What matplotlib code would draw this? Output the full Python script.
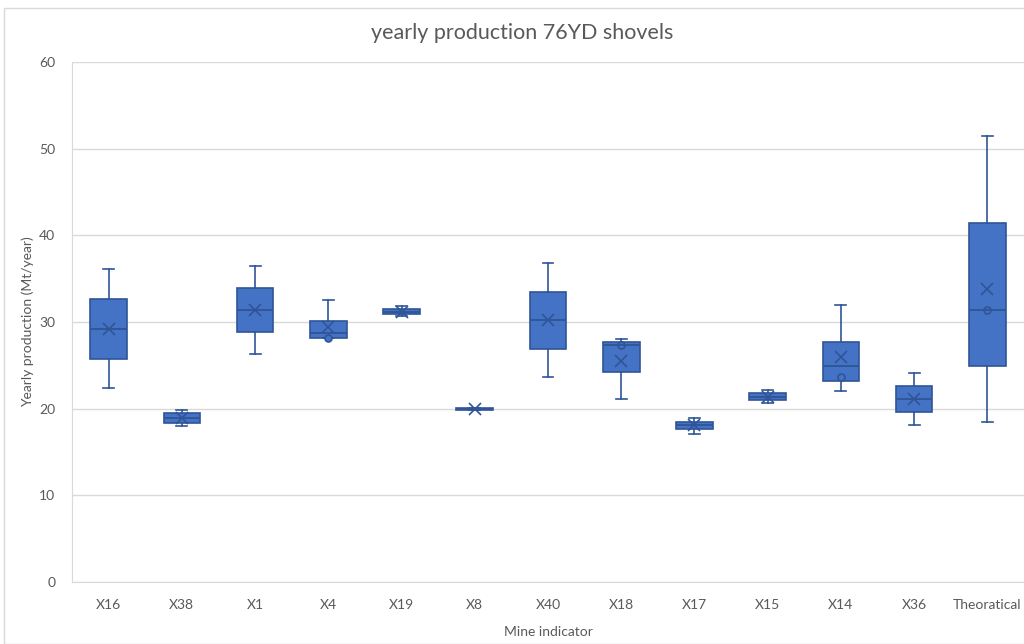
import matplotlib
matplotlib.use("Agg")
import matplotlib.pyplot as plt
from matplotlib.patches import Rectangle

# Yearly production per mine (Mt/year), box-and-whisker summary
mines = ['X16', 'X38', 'X1', 'X4', 'X19', 'X8', 'X40', 'X18', 'X17', 'X15', 'X14', 'X36', 'Theoratical']
whis_lo = [22.35, 18.0, 26.35, 28.1, 30.7, 19.8, 23.65, 21.08, 17.1, 20.6, 22.0, 18.15, 18.5]
q1 = [25.77, 18.38, 28.9, 28.1, 30.88, 19.85, 26.9, 24.2, 17.6, 21.0, 23.2, 19.58, 24.92]
medians = [29.2, 18.96, 31.4, 28.77, 31.2, 19.95, 30.23, 27.38, 18.08, 21.4, 24.9, 21.15, 31.38]
q3 = [32.65, 19.46, 33.9, 30.15, 31.54, 20.05, 33.5, 27.73, 18.5, 21.85, 27.7, 22.65, 41.4]
whis_hi = [36.1, 19.85, 36.5, 32.5, 31.85, 20.1, 36.85, 28.0, 18.96, 22.15, 31.96, 24.15, 51.5]
means = [29.2, 18.96, 31.4, 29.46, 31.2, 19.95, 30.2, 25.5, 18.1, 21.4, 26.0, 21.15, 33.77]
# single points drawn inside the boxes
points = [[], [], [], [28.1], [], [], [], [27.4], [], [], [23.65], [], [31.4]]

fill = '#4472C4'
edge = '#2F5597'
grey = '#595959'

stats = []
for i, name in enumerate(mines):
    stats.append({'label': name, 'whislo': whis_lo[i], 'q1': q1[i], 'med': medians[i],
                  'q3': q3[i], 'whishi': whis_hi[i], 'mean': means[i], 'fliers': points[i]})

fig = plt.figure(figsize=(10.24, 6.44), dpi=100)
plt.rcParams['font.family'] = ['Lato', 'DejaVu Sans']

# chart frame
fig.patches.append(Rectangle((4 / 1024, 0), 1.0, 1 - 8 / 644, transform=fig.transFigure,
                             fill=False, edgecolor='#D9D9D9', linewidth=1))

ax = fig.add_axes([72 / 1024, 0.0963, (1024 - 72) / 1024, 0.8075])
ax.bxp(stats, positions=range(len(mines)), widths=0.5, patch_artist=True,
       showmeans=True, showfliers=True,
       boxprops=dict(facecolor=fill, edgecolor=edge, linewidth=1.2),
       medianprops=dict(color=edge, linewidth=1.3),
       whiskerprops=dict(color=edge, linewidth=1.2),
       capprops=dict(color=edge, linewidth=1.2),
       capwidths=0.15,
       meanprops=dict(marker='x', markeredgecolor=edge, markersize=9, markeredgewidth=1.2),
       flierprops=dict(marker='o', markerfacecolor=fill, markeredgecolor=edge,
                       markersize=5, markeredgewidth=1.2))

ax.set_xlim(-0.5, len(mines) - 0.5)
ax.set_ylim(0, 60)
ax.set_yticks(range(0, 61, 10))
ax.yaxis.grid(True, color='#D9D9D9', linewidth=1)
ax.set_axisbelow(True)
for side in ['top', 'right']:
    ax.spines[side].set_visible(False)
ax.spines['left'].set_color('#D9D9D9')
ax.spines['bottom'].set_color('#D9D9D9')
ax.tick_params(axis='both', length=0, colors=grey, labelsize=10)
ax.tick_params(axis='x', pad=12)
ax.tick_params(axis='y', pad=12)

fig.text(522 / 1024, 1 - 33 / 644, 'yearly production 76YD shovels', fontsize=15.5,
         color=grey, ha='center', va='center')
ax.set_xlabel('Mine indicator', fontsize=10, color=grey, labelpad=11)
ax.set_ylabel('Yearly production (Mt/year)', fontsize=10, color=grey, labelpad=4)

fig.savefig('out.png', dpi=100)
